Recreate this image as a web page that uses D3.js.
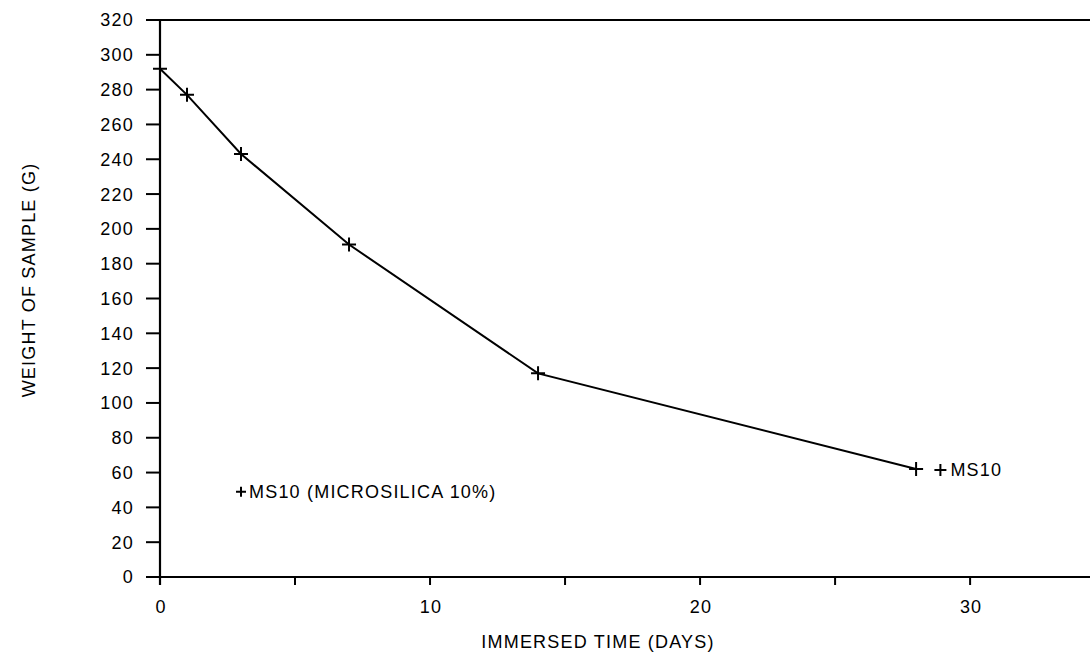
<!DOCTYPE html>
<html>
<head>
<meta charset="utf-8">
<script src="https://cdn.jsdelivr.net/npm/d3@7"></script>
<style>
  body { margin: 0; background: #fff; }
  text { font-family: "Liberation Sans", Arial, sans-serif; fill: #000; letter-spacing: 1.2px; }
</style>
</head>
<body>
<svg id="chart" width="1090" height="655"></svg>
<script>
// Data
const days = [0, 1, 3, 7, 14, 28];
const weights = [292, 277, 243, 191, 117, 62];
const seriesName = "MS10";
const legendText = "MS10 (MICROSILICA 10%)";
const yTicks = d3.range(0, 321, 20);
const xMajorTicks = [0, 10, 20, 30];
const xMinorTicks = [5, 15, 25];
const xTitle = "IMMERSED TIME (DAYS)";
const yTitle = "WEIGHT OF SAMPLE (G)";
const legendPos = [3, 49];
const endLabelPos = [28.9, 61.5];

(function () {
const svg = d3.select("#chart");
const mLeft = 160, mRight = 1090, mTop = 20, mBottom = 577;

const x = d3.scaleLinear().domain([0, 34.44]).range([mLeft, mRight]);
const y = d3.scaleLinear().domain([0, 320]).range([mBottom, mTop]);

const stroke = "#000";
const fs = 18;

// frame: top line, y axis, x axis
svg.append("line").attr("x1", mLeft - 14).attr("x2", mRight).attr("y1", y(320)).attr("y2", y(320))
  .attr("stroke", stroke).attr("stroke-width", 2);
svg.append("line").attr("x1", mLeft).attr("x2", mLeft).attr("y1", y(320)).attr("y2", mBottom + 8)
  .attr("stroke", stroke).attr("stroke-width", 2.2);
svg.append("line").attr("x1", mLeft - 14).attr("x2", mRight).attr("y1", mBottom).attr("y2", mBottom)
  .attr("stroke", stroke).attr("stroke-width", 2);

// y ticks
const yg = svg.append("g");
yg.selectAll("line").data(yTicks).join("line")
  .attr("x1", mLeft - 14).attr("x2", mLeft).attr("y1", d => y(d)).attr("y2", d => y(d))
  .attr("stroke", stroke).attr("stroke-width", 2);
yg.selectAll("text").data(yTicks).join("text")
  .attr("x", 134).attr("y", d => y(d)).attr("dy", "0.36em")
  .attr("text-anchor", "end").attr("font-size", fs).text(d => d);

// x ticks
const xg = svg.append("g");
xg.selectAll("line").data(xMajorTicks.concat(xMinorTicks)).join("line")
  .attr("x1", d => x(d)).attr("x2", d => x(d)).attr("y1", mBottom).attr("y2", mBottom + 8)
  .attr("stroke", stroke).attr("stroke-width", 2);
xg.selectAll("text").data(xMajorTicks).join("text")
  .attr("x", d => x(d) + 1).attr("y", 613)
  .attr("text-anchor", "middle").attr("font-size", fs).text(d => d);

// titles
svg.append("text").attr("x", 598).attr("y", 648).attr("text-anchor", "middle")
  .attr("font-size", fs).text(xTitle);
svg.append("text").attr("transform", "translate(35,280) rotate(-90)").attr("text-anchor", "middle")
  .attr("font-size", fs).text(yTitle);

// line
const pts = days.map((d, i) => [d, weights[i]]);
svg.append("path").datum(pts)
  .attr("d", d3.line().x(d => x(d[0])).y(d => y(d[1])))
  .attr("fill", "none").attr("stroke", stroke).attr("stroke-width", 2);

// plus markers
function plus(g, cx, cy, s) {
  g.append("path").attr("d", `M${cx - s},${cy}H${cx + s}M${cx},${cy - s}V${cy + s}`)
    .attr("stroke", stroke).attr("stroke-width", 2).attr("fill", "none");
}
const mg = svg.append("g");
pts.forEach(p => plus(mg, x(p[0]), y(p[1]), 7));

// end label
plus(svg, x(endLabelPos[0]), y(endLabelPos[1]), 6);
svg.append("text").attr("x", x(endLabelPos[0]) + 10).attr("y", y(endLabelPos[1])).attr("dy", "0.36em")
  .attr("font-size", fs).text(seriesName);

// legend
plus(svg, x(legendPos[0]), y(legendPos[1]), 5);
svg.append("text").attr("x", x(legendPos[0]) + 8).attr("y", y(legendPos[1])).attr("dy", "0.36em")
  .attr("font-size", fs).text(legendText);
})();
</script>
</body>
</html>
